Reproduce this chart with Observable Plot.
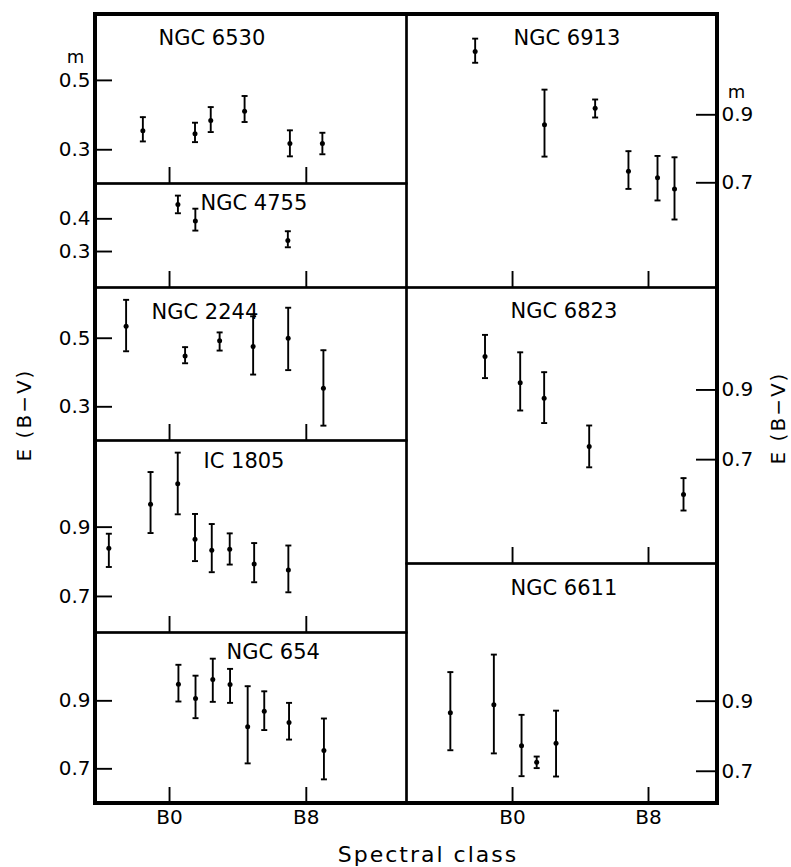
<!DOCTYPE html>
<html>
<head>
<meta charset="utf-8">
<script src="https://cdn.jsdelivr.net/npm/d3@7"></script>
<script src="https://cdn.jsdelivr.net/npm/@observablehq/plot@0.6"></script>
<style>
  body { margin: 0; background: #fff; }
  #root { position: relative; width: 791px; height: 867px; font-family: "DejaVu Sans", sans-serif; background: #fff; overflow: hidden; }
  .lbl { position: absolute; white-space: nowrap; color: #000; font-family: "DejaVu Sans", sans-serif; }
</style>
</head>
<body>
<div id="root"></div>
<script>
// ---- Data (spectral class: B0 = 0, O9 = -1, B8 = 8; E(B-V) in magnitudes) ----
const clusterNames = ["NGC 6530", "NGC 4755", "NGC 2244", "IC 1805", "NGC 654", "NGC 6913", "NGC 6823", "NGC 6611"];

const xTicks = [0, 8];
const xTickLabels = ["B0", "B8"];

const yt6530 = [0.3, 0.5];
const sp6530 = [-1.56, 1.49, 2.41, 4.39, 7.04, 8.94];
const e6530  = [0.355, 0.346, 0.384, 0.411, 0.318, 0.318];
const lo6530 = [0.324, 0.322, 0.351, 0.380, 0.281, 0.287];
const hi6530 = [0.394, 0.378, 0.423, 0.455, 0.356, 0.349];

const yt4755 = [0.3, 0.4];
const sp4755 = [0.49, 1.51, 6.92];
const e4755  = [0.444, 0.393, 0.334];
const lo4755 = [0.417, 0.364, 0.313];
const hi4755 = [0.471, 0.431, 0.362];

const yt2244 = [0.3, 0.5];
const sp2244 = [-2.54, 0.91, 2.93, 4.89, 6.94, 9.0];
const e2244  = [0.535, 0.448, 0.493, 0.476, 0.500, 0.354];
const lo2244 = [0.462, 0.427, 0.464, 0.394, 0.407, 0.245];
const hi2244 = [0.612, 0.474, 0.517, 0.564, 0.589, 0.465];

const yt1805 = [0.7, 0.9];
const sp1805 = [-3.55, -1.11, 0.48, 1.49, 2.47, 3.52, 4.95, 6.95];
const e1805  = [0.839, 0.966, 1.025, 0.865, 0.833, 0.836, 0.794, 0.776];
const lo1805 = [0.785, 0.883, 0.937, 0.802, 0.770, 0.792, 0.741, 0.712];
const hi1805 = [0.881, 1.059, 1.115, 0.938, 0.909, 0.882, 0.854, 0.847];

const yt654 = [0.7, 0.9];
const sp654 = [0.52, 1.52, 2.53, 3.54, 4.57, 5.54, 6.99, 9.03];
const e654  = [0.949, 0.907, 0.963, 0.948, 0.824, 0.869, 0.836, 0.754];
const lo654 = [0.898, 0.849, 0.897, 0.894, 0.716, 0.814, 0.786, 0.669];
const hi654 = [1.006, 0.974, 1.024, 0.994, 0.943, 0.928, 0.894, 0.848];

const yt6913 = [0.7, 0.9];
const sp6913 = [-2.2, 1.88, 4.86, 6.82, 8.53, 9.53];
const e6913  = [1.086, 0.871, 0.919, 0.734, 0.715, 0.682];
const lo6913 = [1.053, 0.777, 0.892, 0.682, 0.648, 0.592];
const hi6913 = [1.124, 0.974, 0.945, 0.793, 0.779, 0.775];

const yt6823 = [0.7, 0.9];
const sp6823 = [-1.62, 0.45, 1.86, 4.51, 10.06];
const e6823  = [0.996, 0.921, 0.876, 0.738, 0.600];
const lo6823 = [0.934, 0.841, 0.805, 0.678, 0.554];
const hi6823 = [1.058, 1.008, 0.951, 0.798, 0.647];

const yt6611 = [0.7, 0.9];
const sp6611 = [-3.66, -1.1, 0.53, 1.42, 2.56];
const e6611  = [0.867, 0.890, 0.773, 0.726, 0.780];
const lo6611 = [0.760, 0.751, 0.686, 0.709, 0.685];
const hi6611 = [0.983, 1.033, 0.861, 0.742, 0.873];

// ---- Layout (pixels) and scale domains ----
const cols = {
  left:  { x0: 95,  x1: 406, xDom: [-4.33, 13.86] },
  right: { x0: 406, x1: 717, xDom: [-6.24, 12.06] }
};

const panels = [
  { i: 0, sp: sp6530, e: e6530, lo: lo6530, hi: hi6530, yt: yt6530, col: "left",  y0: 14,  y1: 183, yDom: [0.2027, 0.690], tdx: 63,  tdy: 24, m: true },
  { i: 1, sp: sp4755, e: e4755, lo: lo4755, hi: hi4755, yt: yt4755, col: "left",  y0: 183, y1: 287, yDom: [0.190, 0.508],  tdx: 105, tdy: 20 },
  { i: 2, sp: sp2244, e: e2244, lo: lo2244, hi: hi2244, yt: yt2244, col: "left",  y0: 287, y1: 440, yDom: [0.2017, 0.648], tdx: 56,  tdy: 25 },
  { i: 3, sp: sp1805, e: e1805, lo: lo1805, hi: hi1805, yt: yt1805, col: "left",  y0: 440, y1: 632, yDom: [0.596, 1.150],  tdx: 108, tdy: 21 },
  { i: 4, sp: sp654,  e: e654,  lo: lo654,  hi: hi654,  yt: yt654,  col: "left",  y0: 632, y1: 803, yDom: [0.598, 1.101],  tdx: 131, tdy: 20, bottom: true },
  { i: 5, sp: sp6913, e: e6913, lo: lo6913, hi: hi6913, yt: yt6913, col: "right", y0: 14,  y1: 287, yDom: [0.392, 1.195],  tdx: 107, tdy: 24, m: true },
  { i: 6, sp: sp6823, e: e6823, lo: lo6823, hi: hi6823, yt: yt6823, col: "right", y0: 287, y1: 563, yDom: [0.402, 1.194],  tdx: 104, tdy: 24 },
  { i: 7, sp: sp6611, e: e6611, lo: lo6611, hi: hi6611, yt: yt6611, col: "right", y0: 563, y1: 803, yDom: [0.608, 1.293],  tdx: 104, tdy: 25, bottom: true }
];

const capSymbol = {
  draw(context, size) {
    const h = Math.sqrt(size / Math.PI);
    context.moveTo(-h, 0);
    context.lineTo(h, 0);
  }
};

const root = document.getElementById("root");
const mL = 70, mR = 70, mB = 45;

panels.forEach(p => {
  const c = cols[p.col];
  const w = c.x1 - c.x0, h = p.y1 - p.y0;
  const isLeft = p.col === "left";
  const rows = p.sp.map((s, k) => ({ s, e: p.e[k], lo: p.lo[k], hi: p.hi[k] }));

  const marks = [
    Plot.frame({ stroke: "black", strokeWidth: 2.2 }),
    Plot.tickY(p.yt, { y: d => d, stroke: "black", strokeWidth: 1.9,
      insetRight: isLeft ? w - 17 : 0, insetLeft: isLeft ? 0 : w - 21 }),
    Plot.tickX(xTicks, { x: d => d, stroke: "black", strokeWidth: 1.9, insetTop: h - 16 }),
    Plot.axisY({ ticks: p.yt, anchor: isLeft ? "left" : "right", tickSize: 0,
      tickPadding: isLeft ? 5 : 4, tickFormat: d3.format(".1f"), label: null, fontSize: 20 }),
    Plot.ruleX(rows, { x: "s", y1: "lo", y2: "hi", stroke: "black", strokeWidth: 1.9 }),
    Plot.dot(rows, { x: "s", y: "lo", symbol: capSymbol, r: 3, fill: "none", stroke: "black", strokeWidth: 1.9 }),
    Plot.dot(rows, { x: "s", y: "hi", symbol: capSymbol, r: 3, fill: "none", stroke: "black", strokeWidth: 1.9 }),
    Plot.dot(rows, { x: "s", y: "e", r: 2.5, fill: "black", stroke: "none" }),
    Plot.text([clusterNames[p.i]], { frameAnchor: "top-left", dx: p.tdx, dy: p.tdy,
      textAnchor: "start", lineAnchor: "middle", fontSize: 21, fill: "black" })
  ];
  if (p.bottom) {
    marks.push(Plot.axisX({ ticks: xTicks, anchor: "bottom", tickSize: 0, tickPadding: 6,
      tickFormat: d => xTickLabels[xTicks.indexOf(d)], label: null, fontSize: 20 }));
  }
  if (p.m) {
    marks.push(Plot.text(["m"], { y: [d3.max(p.yt)], frameAnchor: isLeft ? "left" : "right",
      dx: isLeft ? -20 : 19, dy: isLeft ? -17 : -17, textAnchor: "middle", lineAnchor: "bottom",
      fontSize: 18, fill: "black" }));
  }

  const svg = Plot.plot({
    width: w + mL + mR,
    height: h + mB,
    marginLeft: mL, marginRight: mR, marginTop: 0, marginBottom: mB,
    x: { domain: c.xDom, axis: null },
    y: { domain: p.yDom, axis: null },
    style: { fontFamily: "DejaVu Sans, sans-serif", fontSize: "19px", color: "black", background: "transparent", overflow: "visible" },
    marks
  });
  svg.style.position = "absolute";
  svg.style.left = (c.x0 - mL) + "px";
  svg.style.top = p.y0 + "px";
  svg.style.background = "transparent";
  svg.style.overflow = "visible";
  svg.style.maxWidth = "none";
  root.appendChild(svg);
});

// Outer heavy border
const border = document.createElement("div");
Object.assign(border.style, {
  position: "absolute", left: "93px", top: "12px", width: "626px", height: "793px",
  border: "4px solid black", boxSizing: "border-box", pointerEvents: "none"
});
root.appendChild(border);

// Axis titles
function label(text, x, y, rotate, size, spacing) {
  const d = document.createElement("div");
  d.className = "lbl";
  d.textContent = text;
  Object.assign(d.style, {
    left: x + "px", top: y + "px", fontSize: size + "px", letterSpacing: spacing + "px",
    transform: `translate(-50%, -50%)${rotate ? " rotate(-90deg)" : ""}`, lineHeight: "1"
  });
  root.appendChild(d);
}
label("E (B\u2212V)", 24, 415, true, 20, 2);
label("E (B\u2212V)", 778, 418, true, 20, 2);
label("Spectral class", 428, 855, false, 22, 2);
</script>
</body>
</html>
